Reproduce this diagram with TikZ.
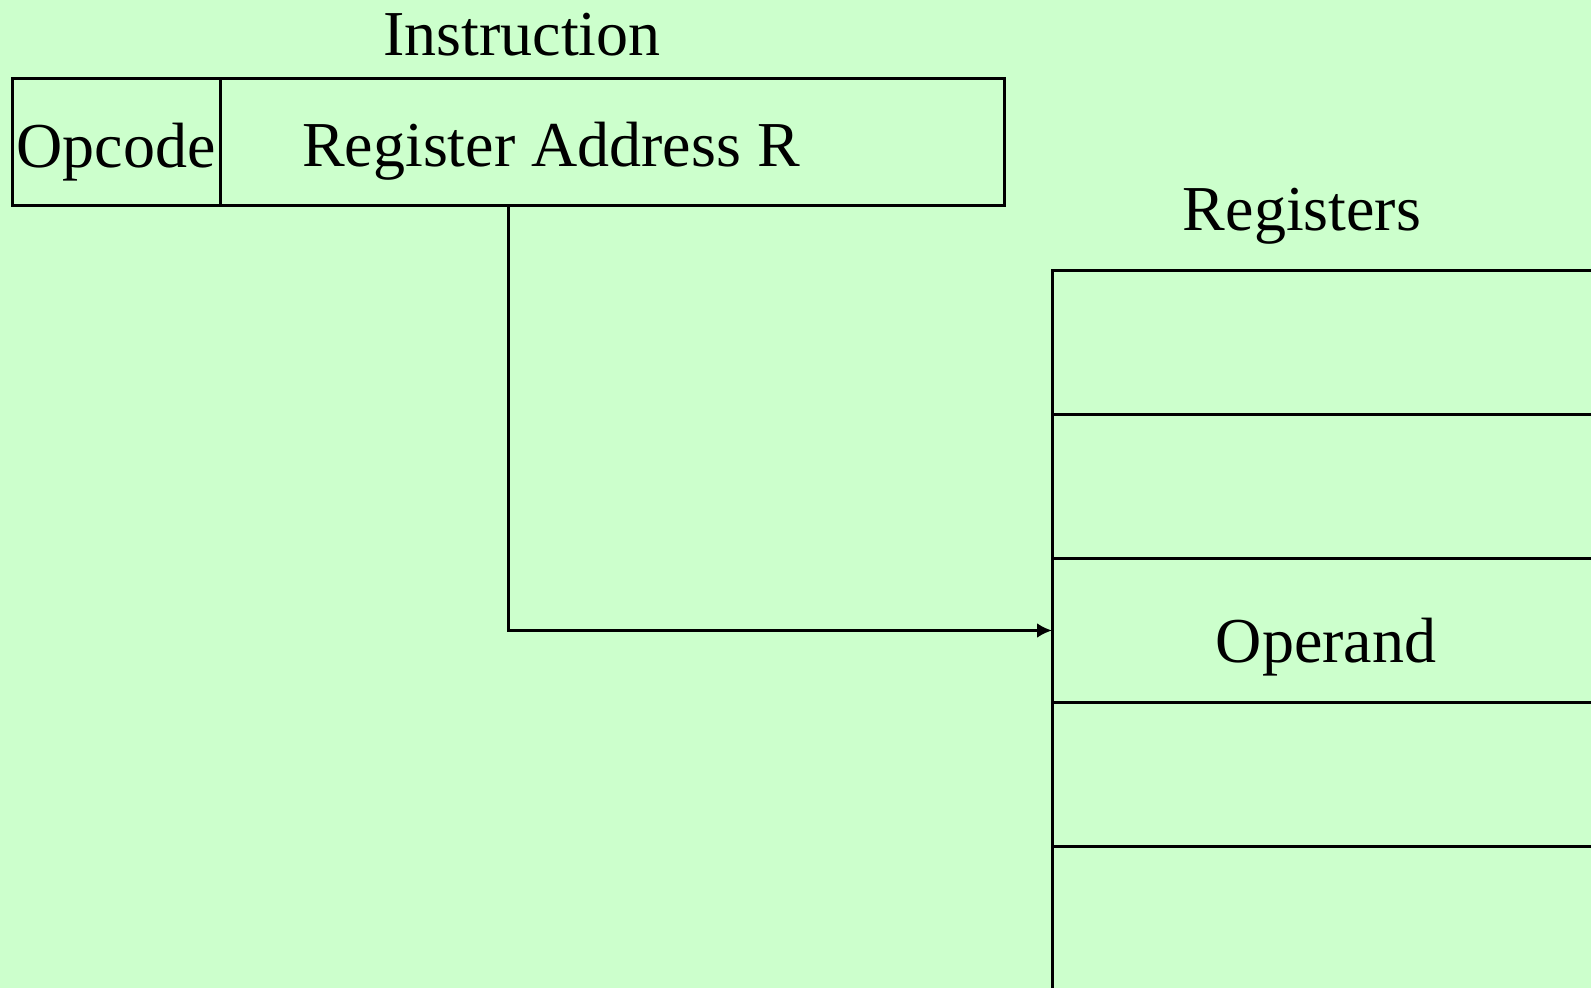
\documentclass[tikz,border=0pt]{standalone}
\usepackage{fontspec}
\setmainfont{Liberation Serif}
\usetikzlibrary{arrows.meta,positioning}
\definecolor{slidegreen}{RGB}{204,255,204}
\tikzset{%
  >={Latex[width=7.5pt,length=7.5pt]},
  % Specifications for style of nodes:
           field/.style = {rectangle, draw=black, line width=1.5pt,
                           minimum width=104pt, minimum height=63.5pt,
                           inner sep=0pt, outer sep=0pt},
            cell/.style = {field, minimum width=320pt, minimum height=71.9pt},
         caption/.style = {inner sep=0pt, anchor=base}
}

\begin{document}
\begin{tikzpicture}[x=0.5pt, y=-0.5pt, line width=1.5pt,
    every node/.style={font=\fontsize{32}{38}\selectfont}]

  \useasboundingbox[fill=slidegreen] (0,0) rectangle (1591,988);
  \clip (0,0) rectangle (1591,988);

  % Instruction word
  \node (opcode)   [field, anchor=north west, text height=25pt, text depth=0pt]
                   at (12,79) {Opcode};
  \node (address)  [field, right=0pt of opcode, minimum width=392pt] {};
  \node (instr)    [caption] at (522,56)  {Instruction};
  \node (addrtext) [caption] at (551,167) {Register Address R};

  % Register file
  \node (reg1) [cell, anchor=north west] at (1052,271) {};
  \foreach \i [remember=\i as \prev (initially 1)] in {2,...,5}
    \node (reg\i) [cell, below=0pt of reg\prev] {};
  \node (regs)    [caption] at (1302,231) {Registers};
  \node (operand) [caption] at (1326,663) {Operand};

  % Register address selects the operand
  \coordinate (tap) at (508,206);
  \draw[->] (tap) |- (reg3.west);
\end{tikzpicture}
\end{document}
